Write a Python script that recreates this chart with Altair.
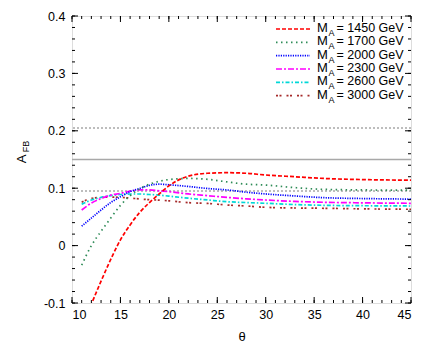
import altair as alt
import pandas as pd

# ---- data ----
theta = [11, 12, 13, 14, 15, 16, 17, 18, 19, 20, 22, 24, 26, 28, 30, 33, 36, 40, 45]
a_1450 = [-0.145, -0.102, -0.062, -0.024, 0.010, 0.036, 0.058, 0.075, 0.090, 0.104, 0.121, 0.126, 0.127, 0.126, 0.123, 0.120, 0.117, 0.115, 0.114]
a_1700 = [-0.034, 0.000, 0.025, 0.048, 0.070, 0.087, 0.099, 0.107, 0.112, 0.115, 0.117, 0.1155, 0.111, 0.107, 0.1055, 0.101, 0.098, 0.097, 0.0966]
a_2000 = [0.034, 0.048, 0.062, 0.075, 0.085, 0.094, 0.0995, 0.105, 0.107, 0.106, 0.103, 0.0995, 0.097, 0.093, 0.090, 0.0865, 0.0835, 0.082, 0.081]
a_2300 = [0.062, 0.074, 0.082, 0.088, 0.091, 0.095, 0.097, 0.097, 0.0955, 0.094, 0.090, 0.087, 0.084, 0.0815, 0.0794, 0.077, 0.0755, 0.0745, 0.0737]
a_2600 = [0.072, 0.0794, 0.084, 0.087, 0.089, 0.0899, 0.0899, 0.089, 0.088, 0.0862, 0.0826, 0.0795, 0.0765, 0.075, 0.0737, 0.0715, 0.0702, 0.0695, 0.069]
a_3000 = [0.0755, 0.0824, 0.084, 0.0845, 0.084, 0.0828, 0.0812, 0.080, 0.0792, 0.078, 0.0748, 0.0735, 0.0707, 0.069, 0.0667, 0.0655, 0.065, 0.064, 0.0633]

masses = ["1450", "1700", "2000", "2300", "2600", "3000"]
series_values = [a_1450, a_1700, a_2000, a_2300, a_2600, a_3000]
colors = ["#ff0000", "#2e8b57", "#0000ff", "#ff00ff", "#00d8d8", "#a52a2a"]
dashes = [[4, 2], [1.5, 3.5], [1.2, 1.2], [6, 2, 2, 2], [4, 2, 1.5, 2], [2, 1.5, 2, 5]]

ref_dotted = [0.205, 0.095]
ref_solid = [0.15]

x_major = [10, 15, 20, 25, 30, 35, 40, 45]
x_minor = list(range(10, 46))
y_major = [-0.1, 0.0, 0.1, 0.2, 0.3, 0.4]
y_minor = [round(-0.1 + 0.02 * i, 2) for i in range(26)]

W, H = 339, 287
FONT = "Liberation Sans"

xscale = alt.Scale(domain=[10, 45], nice=False, zero=False)
yscale = alt.Scale(domain=[-0.1, 0.4], nice=False, zero=False)

x_axis = alt.Axis(values=x_major, ticks=False, tickSize=0, domain=False, grid=False,
                  labelFontSize=12.5, labelFont=FONT, labelColor="black", labelPadding=5,
                  title="θ", titleFont=FONT, titleFontSize=13, titleFontWeight="normal",
                  titleColor="black", titlePadding=10)
y_axis = alt.Axis(values=y_major, ticks=False, tickSize=0, domain=False, grid=False,
                  labelFontSize=12.5, labelFont=FONT, labelColor="black", labelPadding=7,
                  labelExpr="datum.value == 0 ? '0' : (datum.value < 0 ? '-' + format(-datum.value, '.1f') : format(datum.value, '.1f'))",
                  title=None)

layers = []

# reference lines
layers.append(alt.Chart(pd.DataFrame({"v": ref_dotted})).mark_rule(
    color="#a8a8a8", strokeWidth=1.6, strokeDash=[2, 2]).encode(
    y=alt.Y("v:Q", scale=yscale, axis=y_axis)))
layers.append(alt.Chart(pd.DataFrame({"v": ref_solid})).mark_rule(
    color="#a8a8a8", strokeWidth=1.6).encode(
    y=alt.Y("v:Q", scale=yscale, axis=y_axis)))

# curves (reverse order so red on top)
for m, vals, c, d in reversed(list(zip(masses, series_values, colors, dashes))):
    df = pd.DataFrame({"theta": theta, "A": vals})
    layers.append(alt.Chart(df).mark_line(
        color=c, strokeDash=d, strokeWidth=1.7, clip=True, interpolate="monotone").encode(
        x=alt.X("theta:Q", scale=xscale, axis=x_axis),
        y=alt.Y("A:Q", scale=yscale, axis=y_axis)))

# inward ticks on all four sides
def xticks(vals, ln):
    df = pd.DataFrame({"t": vals})
    bottom = alt.Chart(df).mark_rule(color="black", strokeWidth=1).encode(
        x=alt.X("t:Q", scale=xscale, axis=x_axis), y=alt.value(H), y2=alt.value(H - ln))
    top = alt.Chart(df).mark_rule(color="black", strokeWidth=1).encode(
        x=alt.X("t:Q", scale=xscale, axis=x_axis), y=alt.value(0), y2=alt.value(ln))
    return [bottom, top]

def yticks(vals, ln):
    df = pd.DataFrame({"t": vals})
    left = alt.Chart(df).mark_rule(color="black", strokeWidth=1).encode(
        y=alt.Y("t:Q", scale=yscale, axis=y_axis), x=alt.value(0), x2=alt.value(ln))
    right = alt.Chart(df).mark_rule(color="black", strokeWidth=1).encode(
        y=alt.Y("t:Q", scale=yscale, axis=y_axis), x=alt.value(W), x2=alt.value(W - ln))
    return [left, right]

layers += xticks(x_major, 6) + xticks(x_minor, 3)
layers += yticks(y_major, 6) + yticks(y_minor, 3)

# legend (manual, to allow subscripts)
one = pd.DataFrame({"k": [0]})
for i, (m, c, d) in enumerate(zip(masses, colors, dashes)):
    ly = 13 + i * 13.33
    layers.append(alt.Chart(one).mark_rule(color=c, strokeDash=d, strokeWidth=1.7).encode(
        x=alt.value(204), x2=alt.value(238), y=alt.value(ly)))
    layers.append(alt.Chart(one).mark_text(text="M", font=FONT, fontSize=13, align="left",
                                           baseline="alphabetic", color="black").encode(
        x=alt.value(245), y=alt.value(ly + 3)))
    layers.append(alt.Chart(one).mark_text(text="A", font=FONT, fontSize=9, align="left",
                                           baseline="alphabetic", color="black").encode(
        x=alt.value(256.5), y=alt.value(ly + 7)))
    layers.append(alt.Chart(one).mark_text(text=f"= {m} GeV", font=FONT, fontSize=12.5, align="left",
                                           baseline="alphabetic", color="black").encode(
        x=alt.value(264.5), y=alt.value(ly + 3)))

# y axis title A_FB
layers.append(alt.Chart(one).mark_text(text="A", font=FONT, fontSize=13, angle=270, align="center",
                                       baseline="middle", color="black").encode(
    x=alt.value(-50), y=alt.value(143)))
layers.append(alt.Chart(one).mark_text(text="FB", font=FONT, fontSize=9, angle=270, align="center",
                                       baseline="middle", color="black").encode(
    x=alt.value(-46), y=alt.value(130.5)))

chart = alt.layer(*layers).properties(
    width=W, height=H,
    autosize=alt.AutoSizeParams(type="none"),
    padding={"left": 64, "top": 8, "right": 10, "bottom": 42},
).configure_view(stroke="black", strokeWidth=1).configure(background="white")

chart.save("out.html", embed_options={"renderer": "svg", "actions": False})
